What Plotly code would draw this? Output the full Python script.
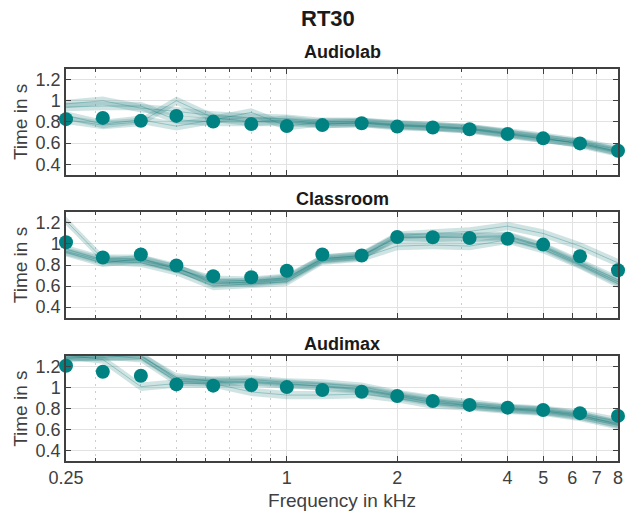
import numpy as np
import plotly.graph_objects as go

freqs = [0.25, 0.315, 0.4, 0.5, 0.63, 0.8, 1, 1.25, 1.6, 2, 2.5, 3.15, 4, 5, 6.3, 8]

rooms = ["Audiolab", "Classroom", "Audimax"]

audiolab_mean = [0.826, 0.838, 0.81, 0.857, 0.803, 0.781, 0.762, 0.77, 0.788, 0.756, 0.747, 0.731, 0.686, 0.645, 0.597, 0.527]
audiolab_lines = [
    [0.97, 1.00, 0.93, 0.90, 0.86, 0.84, 0.83, 0.80, 0.80, 0.78, 0.76, 0.74, 0.70, 0.66, 0.61, 0.54],
    [0.82, 0.77, 0.80, 1.00, 0.84, 0.80, 0.80, 0.78, 0.79, 0.77, 0.75, 0.73, 0.69, 0.64, 0.60, 0.52],
    [0.86, 0.78, 0.82, 0.76, 0.82, 0.89, 0.76, 0.80, 0.80, 0.77, 0.76, 0.74, 0.69, 0.65, 0.59, 0.51],
    [0.94, 0.95, 0.95, 0.82, 0.80, 0.80, 0.82, 0.78, 0.79, 0.76, 0.75, 0.73, 0.68, 0.64, 0.60, 0.52],
]

classroom_mean = [1.016, 0.871, 0.90, 0.795, 0.694, 0.684, 0.745, 0.90, 0.89, 1.067, 1.064, 1.057, 1.05, 0.994, 0.883, 0.75]
classroom_lines = [
    [1.22, 0.86, 0.86, 0.78, 0.62, 0.64, 0.67, 0.86, 0.89, 1.08, 1.10, 1.12, 1.17, 1.10, 0.98, 0.82],
    [0.95, 0.85, 0.84, 0.77, 0.64, 0.63, 0.66, 0.85, 0.88, 1.07, 1.06, 1.07, 1.08, 0.98, 0.82, 0.66],
    [0.93, 0.84, 0.82, 0.74, 0.60, 0.62, 0.64, 0.84, 0.87, 0.98, 0.99, 0.98, 1.04, 0.95, 0.80, 0.62],
    [0.92, 0.82, 0.86, 0.76, 0.66, 0.65, 0.68, 0.86, 0.89, 1.06, 1.07, 1.06, 1.07, 0.97, 0.81, 0.64],
]

audimax_mean = [1.21, 1.153, 1.115, 1.032, 1.02, 1.026, 1.006, 0.978, 0.962, 0.921, 0.874, 0.836, 0.81, 0.788, 0.757, 0.731]
audimax_lines = [
    [1.30, 1.29, 1.31, 1.08, 1.07, 1.08, 1.05, 1.04, 1.01, 0.94, 0.89, 0.85, 0.81, 0.79, 0.75, 0.68],
    [1.29, 1.31, 1.28, 1.06, 1.05, 1.05, 1.03, 1.02, 0.99, 0.93, 0.88, 0.83, 0.80, 0.78, 0.73, 0.66],
    [1.31, 1.27, 1.01, 1.04, 1.04, 0.96, 0.93, 0.93, 0.94, 0.90, 0.84, 0.82, 0.79, 0.77, 0.72, 0.64],
    [1.28, 1.30, 1.30, 1.10, 1.06, 1.06, 1.04, 1.01, 0.98, 0.92, 0.86, 0.83, 0.80, 0.78, 0.74, 0.65],
]

band_halfwidth = 0.04

x_tickvals = [0.25, 1, 2, 4, 5, 6, 7, 8]
x_ticktext = ["0.25", "1", "2", "4", "5", "6", "7", "8"]
x_minor = [0.3, 0.4, 0.5, 0.6, 0.7, 0.8, 0.9, 3]
y_tickvals = [0.4, 0.6, 0.8, 1.0, 1.2]
y_ticktext = ["0.4", "0.6", "0.8", "1", "1.2"]

means = [audiolab_mean, classroom_mean, audimax_mean]
lines = [audiolab_lines, classroom_lines, audimax_lines]

TEAL = "rgb(0,130,130)"
BAND = "rgba(60,140,140,0.24)"
LINE = "rgba(0,120,120,0.30)"
FONT = "Liberation Sans, Arial, sans-serif"
AXC = "#404040"

fig = go.Figure()

domains = [[0.730, 1.0], [0.366, 0.634], [0.0, 0.267]]

for i in range(3):
    xa = "x" if i == 0 else f"x{i+1}"
    ya = "y" if i == 0 else f"y{i+1}"
    for ln in lines[i]:
        up = [v + band_halfwidth for v in ln]
        lo = [v - band_halfwidth for v in ln]
        fig.add_trace(go.Scatter(
            x=freqs + freqs[::-1], y=up + lo[::-1], fill="toself",
            fillcolor=BAND, line=dict(width=0), mode="lines",
            hoverinfo="skip", showlegend=False, xaxis=xa, yaxis=ya))
        fig.add_trace(go.Scatter(
            x=freqs, y=ln, mode="lines", line=dict(color=LINE, width=1),
            showlegend=False, xaxis=xa, yaxis=ya))
    fig.add_trace(go.Scatter(
        x=freqs, y=means[i], mode="markers",
        marker=dict(color=TEAL, size=14, line=dict(width=0)),
        cliponaxis=False, showlegend=False, xaxis=xa, yaxis=ya))

layout = dict(
    width=630, height=515,
    margin=dict(l=66, r=7, t=69, b=53),
    paper_bgcolor="white", plot_bgcolor="white",
    font=dict(family=FONT, color=AXC, size=18),
    showlegend=False,
)

for i in range(3):
    xk = "xaxis" if i == 0 else f"xaxis{i+1}"
    yk = "yaxis" if i == 0 else f"yaxis{i+1}"
    anchor_y = "y" if i == 0 else f"y{i+1}"
    anchor_x = "x" if i == 0 else f"x{i+1}"
    layout[xk] = dict(
        type="log", range=[np.log10(0.25), np.log10(8)], domain=[0, 1],
        anchor=anchor_y, tickvals=x_tickvals, ticktext=x_ticktext,
        showticklabels=(i == 2), ticks="inside", ticklen=5, tickcolor=AXC,
        showline=True, linecolor=AXC, linewidth=1.5, mirror="ticks",
        showgrid=True, gridcolor="#e2e2e2", gridwidth=1, zeroline=False,
        tickfont=dict(size=18, color=AXC),
        minor=dict(tickvals=x_minor, ticks="inside", ticklen=3, tickcolor=AXC,
                   showgrid=True, gridcolor="#cdcdcd", griddash="2px,5px", gridwidth=1),
    )
    layout[yk] = dict(
        range=[0.3, 1.3], domain=domains[i], anchor=anchor_x,
        tickvals=y_tickvals, ticktext=y_ticktext,
        ticks="inside", ticklen=5, tickcolor=AXC,
        showline=True, linecolor=AXC, linewidth=1.5, mirror="ticks",
        showgrid=True, gridcolor="#e2e2e2", gridwidth=1, zeroline=False,
        tickfont=dict(size=18, color=AXC),
        title=dict(text="Time in s", font=dict(size=19, color=AXC), standoff=3),
    )
layout["xaxis3"]["title"] = dict(text="Frequency in kHz", font=dict(size=19, color=AXC), standoff=6)

fig.update_layout(**layout)

plot_h = 515 - 69 - 53
plot_w = 630 - 66 - 7
def py(pix):
    return 1 - (pix - 69) / plot_h
def px(pix):
    return (pix - 66) / plot_w

titles_y = [52, 199, 345]
ann = [dict(text="<b>RT30</b>", x=px(330), y=py(18), xref="paper", yref="paper",
            showarrow=False, font=dict(size=22, color="#1a1a1a"), yanchor="middle")]
for t, yy in zip(rooms, titles_y):
    ann.append(dict(text=f"<b>{t}</b>", x=0.5, y=py(yy), xref="paper", yref="paper",
                    showarrow=False, font=dict(size=18, color="#1a1a1a"), yanchor="middle"))
fig.update_layout(annotations=ann)

fig.write_html("out.html")
